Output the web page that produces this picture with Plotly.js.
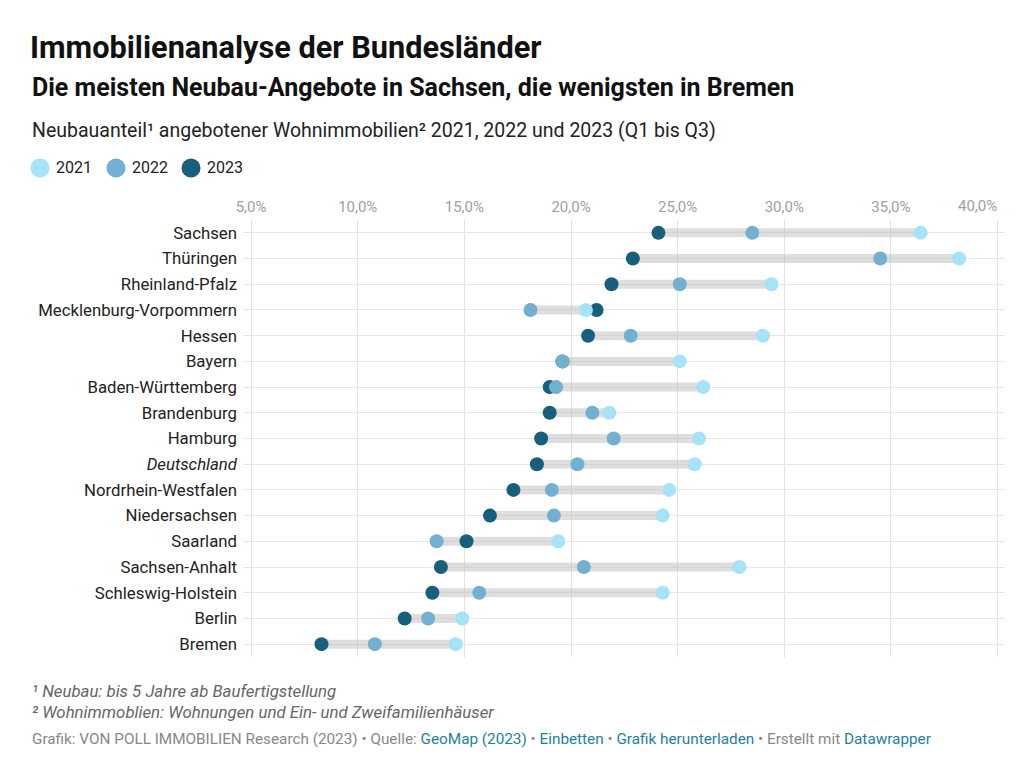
<!DOCTYPE html>
<html>
<head>
<meta charset="utf-8">
<script src="https://cdn.plot.ly/plotly-3.0.1.min.js"></script>
<style>
  html, body { margin: 0; padding: 0; background: #fff; }
  #chart { width: 1032px; height: 766px; }
</style>
</head>
<body>
<div id="chart"></div>
<script>
// Neubauanteil angebotener Wohnimmobilien nach Bundesland, in Prozent
const states = ['Sachsen', 'Thüringen', 'Rheinland-Pfalz', 'Mecklenburg-Vorpommern', 'Hessen',
  'Bayern', 'Baden-Württemberg', 'Brandenburg', 'Hamburg', 'Deutschland',
  'Nordrhein-Westfalen', 'Niedersachsen', 'Saarland', 'Sachsen-Anhalt',
  'Schleswig-Holstein', 'Berlin', 'Bremen'];
const v2021 = [36.4, 38.2, 29.4, 20.7, 29.0, 25.1, 26.2, 21.8, 26.0, 25.8, 24.6, 24.3, 19.4, 27.9, 24.3, 14.9, 14.6];
const v2022 = [28.5, 34.5, 25.1, 18.1, 22.8, 19.6, 19.3, 21.0, 22.0, 20.3, 19.1, 19.2, 13.7, 20.6, 15.7, 13.3, 10.8];
const v2023 = [24.1, 22.9, 21.9, 21.2, 20.8, 19.6, 19.0, 19.0, 18.6, 18.4, 17.3, 16.2, 15.1, 13.9, 13.5, 12.2, 8.3];
const years = ['2021', '2022', '2023'];
const xTicks = [5, 10, 15, 20, 25, 30, 35, 40];

const colors = { '2021': '#a6e3f7', '2022': '#72b0d1', '2023': '#185f7c' };
const FONT = 'Roboto, "Noto Sans", sans-serif';

// plot area in pixels, used to place the text blocks around it
const W = 1032, H = 766;
const M = { l: 243, r: 27, t: 220, b: 109 };
const pw = W - M.l - M.r, ph = H - M.t - M.b;
const px = x => (x - M.l) / pw;
const py = y => (H - M.b - y) / ph;

// grey range bar per row, from the smallest to the largest value
const rangeX = [], rangeY = [];
states.forEach((s, i) => {
  const vals = [v2021[i], v2022[i], v2023[i]];
  rangeX.push(Math.min(...vals), Math.max(...vals), null);
  rangeY.push(s, s, null);
});

const traces = [
  {
    type: 'scatter', mode: 'lines', x: rangeX, y: rangeY,
    line: { color: 'rgba(190,190,190,0.5)', width: 9 },
    showlegend: false, hoverinfo: 'skip'
  }
];
const series = { '2021': v2021, '2022': v2022, '2023': v2023 };
// later years are drawn underneath earlier ones
['2023', '2022', '2021'].forEach(yr => {
  traces.push({
    type: 'scatter', mode: 'markers', name: yr,
    x: series[yr], y: states,
    marker: { color: colors[yr], size: 14, line: { width: 0 } },
    showlegend: false
  });
});

const linkBlue = '#1d81a2';
const tickFont = { family: FONT, size: 15, color: '#a0a0a0' };
const fmtPct = v => v.toFixed(1).replace('.', ',') + '%';

// key above the chart: coloured dot plus year
const keyShapes = [], keyLabels = [];
const keyDotX = [40, 116, 191];
years.forEach((yr, i) => {
  const cx = keyDotX[i], cy = 168, r = 9.5;
  keyShapes.push({
    type: 'circle', xref: 'paper', yref: 'paper',
    x0: px(cx - r), x1: px(cx + r), y0: py(cy + r), y1: py(cy - r),
    fillcolor: colors[yr], line: { width: 0 }
  });
  keyLabels.push({
    text: yr, xref: 'paper', yref: 'paper', x: px(cx + 14), y: py(cy),
    xanchor: 'left', yanchor: 'middle', showarrow: false,
    font: { family: FONT, size: 16, color: '#222' }
  });
});

// the last tick label is right-aligned to its gridline so it stays inside the chart
const lastTick = xTicks[xTicks.length - 1];
const tickText = xTicks.map(v => v === lastTick ? '' : fmtPct(v));
const lastTickLabel = {
  text: fmtPct(lastTick), xref: 'x', yref: 'paper', x: lastTick, y: py(206),
  xanchor: 'right', yanchor: 'middle', showarrow: false, xshift: 1,
  font: tickFont
};

const layout = {
  width: W, height: H,
  margin: M,
  paper_bgcolor: '#fff', plot_bgcolor: '#fff',
  font: { family: FONT, color: '#222' },
  title: {
    text: 'Immobilienanalyse der Bundesländer',
    font: { family: FONT, size: 30.7, color: '#111', weight: 700 },
    x: 30 / W, xanchor: 'left', xref: 'container',
    y: 1 - 47 / H, yanchor: 'middle', yref: 'container'
  },
  showlegend: false,
  xaxis: {
    side: 'top',
    range: [4.62, 40.35],
    tickvals: xTicks,
    ticktext: tickText,
    tickfont: tickFont,
    showgrid: true, gridcolor: '#e3e3e3', gridwidth: 1,
    zeroline: false, showline: false, ticks: '', ticklabelstandoff: 4,
    fixedrange: true
  },
  yaxis: {
    type: 'category',
    categoryorder: 'array', categoryarray: states,
    range: [states.length - 0.5, -0.5],
    tickvals: states,
    ticktext: states.map(s => s === 'Deutschland' ? '<i>' + s + '</i>' : s),
    tickfont: { family: FONT, size: 16.75, color: '#222' },
    showgrid: true, gridcolor: '#e6e6e6', gridwidth: 1,
    zeroline: false, showline: false, ticks: '', ticklabelstandoff: 5,
    fixedrange: true
  },
  shapes: keyShapes,
  annotations: keyLabels.concat([
    lastTickLabel,
    {
      text: '<b>Die meisten Neubau-Angebote in Sachsen, die wenigsten in Bremen</b>',
      xref: 'paper', yref: 'paper', x: px(30), y: py(87),
      xanchor: 'left', yanchor: 'middle', showarrow: false,
      font: { family: FONT, size: 25, color: '#111' }
    },
    {
      text: 'Neubauanteil¹ angebotener Wohnimmobilien² 2021, 2022 und 2023 (Q1 bis Q3)',
      xref: 'paper', yref: 'paper', x: px(30), y: py(130),
      xanchor: 'left', yanchor: 'middle', showarrow: false,
      font: { family: FONT, size: 19.5, color: '#222' }
    },
    {
      text: '<i>¹ Neubau: bis 5 Jahre ab Baufertigstellung</i>',
      xref: 'paper', yref: 'paper', x: px(30), y: py(691),
      xanchor: 'left', yanchor: 'middle', showarrow: false,
      font: { family: FONT, size: 16.8, color: '#666' }
    },
    {
      text: '<i>² Wohnimmoblien: Wohnungen und Ein- und Zweifamilienhäuser</i>',
      xref: 'paper', yref: 'paper', x: px(30), y: py(712),
      xanchor: 'left', yanchor: 'middle', showarrow: false,
      font: { family: FONT, size: 16.8, color: '#666' }
    },
    {
      text: 'Grafik: VON POLL IMMOBILIEN Research (2023) • Quelle: ' +
        '<span style="color:' + linkBlue + '">GeoMap (2023)</span> • ' +
        '<span style="color:' + linkBlue + '">Einbetten</span> • ' +
        '<span style="color:' + linkBlue + '">Grafik herunterladen</span> • Erstellt mit ' +
        '<span style="color:' + linkBlue + '">Datawrapper</span>',
      xref: 'paper', yref: 'paper', x: px(30), y: py(739),
      xanchor: 'left', yanchor: 'middle', showarrow: false,
      font: { family: FONT, size: 15.3, color: '#888' }
    }
  ])
};

Plotly.newPlot('chart', traces, layout, { staticPlot: true, displayModeBar: false });
</script>
</body>
</html>
